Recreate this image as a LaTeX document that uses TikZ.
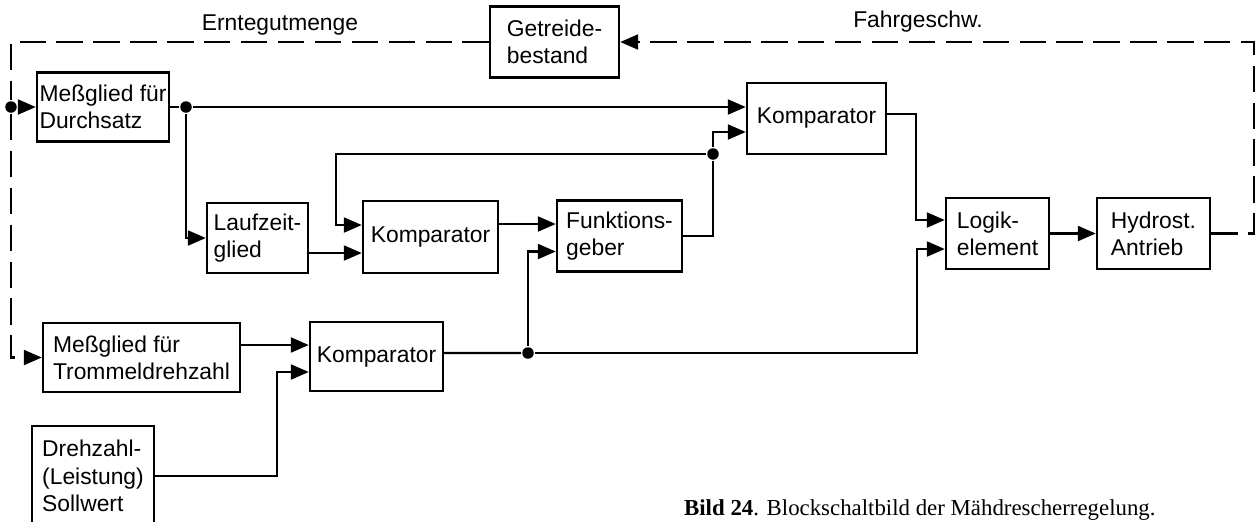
\documentclass[tikz,border=0pt]{standalone}
\usepackage{fontspec}
\setmainfont{Liberation Serif}
\setsansfont{Liberation Sans}
\usetikzlibrary{arrows.meta}

\begin{document}
\begin{tikzpicture}[x=0.2mm,y=-0.2mm,line width=1.3pt,
  arr/.style={-{Triangle[length=3.6mm,width=3mm]}},
  blk/.style={draw,line width=1.4pt,inner sep=0pt,align=left,font=\sffamily\fontsize{13}{15.5}\selectfont},
  lbl/.style={inner sep=0pt,font=\sffamily\fontsize{13}{15.5}\selectfont},
  dot/.style={circle,fill,inner sep=0pt,minimum size=2.3mm},
  fb/.style={dash pattern=on 15pt off 6pt}]
\useasboundingbox (0,0) rectangle (1259,521);
\node[blk,minimum width=26.4mm,minimum height=13.8mm] (durch) at (103,107) {Meßglied für\\Durchsatz};
\node[blk,minimum width=25.8mm,minimum height=14.2mm] (getreide) at (554.5,42) {Getreide-\\bestand};
\node[blk,minimum width=20.2mm,minimum height=14mm] (laufzeit) at (257.5,238) {Laufzeit-\\glied};
\node[blk,minimum width=27mm,minimum height=14.4mm] (kompM) at (430.5,237) {Komparator};
\node[blk,minimum width=25mm,minimum height=14.2mm] (funk) at (619.5,236) {Funktions-\\geber};
\node[blk,minimum width=27.8mm,minimum height=14.2mm] (kompT) at (816.5,118.5) {Komparator};
\node[blk,minimum width=20.6mm,minimum height=14.2mm] (logik) at (997.5,233.5) {Logik-\\element};
\node[blk,minimum width=22.6mm,minimum height=14.2mm] (hydro) at (1153.5,233.5) {Hydrost.\\Antrieb};
\node[blk,minimum width=39.4mm,minimum height=13.8mm] (trommel) at (141.5,357.5) {Meßglied für\\Trommeldrehzahl};
\node[blk,minimum width=26.6mm,minimum height=13.8mm] (kompL) at (376.5,356.5) {Komparator};
\node[blk,minimum width=24.4mm,minimum height=20mm] (soll) at (93,476) {Drehzahl-\\(Leistung)\\Sollwert};
\node[lbl] (ernte) at (280,25) {Erntegutmenge};
\node[lbl] (fahr) at (918,22) {Fahrgeschw.};
\node[anchor=west,inner sep=0pt,font=\fontsize{13}{15}\selectfont] (bild) at (683,510) {\textbf{Bild 24}. Blockschaltbild der Mähdrescherregelung.};
% Verzweigungen
\node[dot] (jL) at (11,107) {};
\node[dot] (jD) at (186,107) {};
\node[dot] (jF) at (713,154) {};
\node[dot] (jK) at (528,353) {};
\coordinate (fbk) at (336,154);
% gestrichelter Kreis
\draw[fb,arr] (hydro.east) -- ++(43,0) |- (getreide.east);
\draw[fb] (getreide.west) -| (jL);
\draw[fb,arr] (jL) |- (trommel.west);
\draw[arr] (jL) -- (durch.west);
% Durchsatz
\draw (durch.east) -- (jD);
\draw[arr] (jD) -- (jD -| kompT.west);
\draw[arr] (jD) |- (laufzeit.west);
\draw[arr] ([yshift=-3mm]laufzeit.east) -- ([yshift=-3mm]laufzeit.east -| kompM.west);
\draw[arr] ([yshift=2.6mm]kompM.east) -- ([yshift=2.6mm]kompM.east -| funk.west);
\draw (funk.east) -| (jF);
\draw[arr] (jF) |- ([yshift=-2.7mm]kompT.west);
\draw[arr] (jF) -- (fbk) |- ([yshift=2.4mm]kompM.west);
\draw[arr] ([yshift=0.9mm]kompT.east) -- ++(29,0) |- ([yshift=2.7mm]logik.west);
\draw[arr] (logik.east) -- (logik.east -| hydro.west);
% Trommeldrehzahl
\draw[arr] ([yshift=2.5mm]trommel.east) -- ([yshift=2.5mm]trommel.east -| kompL.west);
\draw[arr] (soll.east) -- ++(122,0) |- ([yshift=-3.1mm]kompL.west);
\draw ([yshift=0.7mm]kompL.east) -- (jK);
\draw[arr] (jK) |- ([yshift=-3.1mm]funk.west);
\draw[arr] (jK) -- ++(389,0) |- ([yshift=-3.1mm]logik.west);
\end{tikzpicture}
\end{document}
